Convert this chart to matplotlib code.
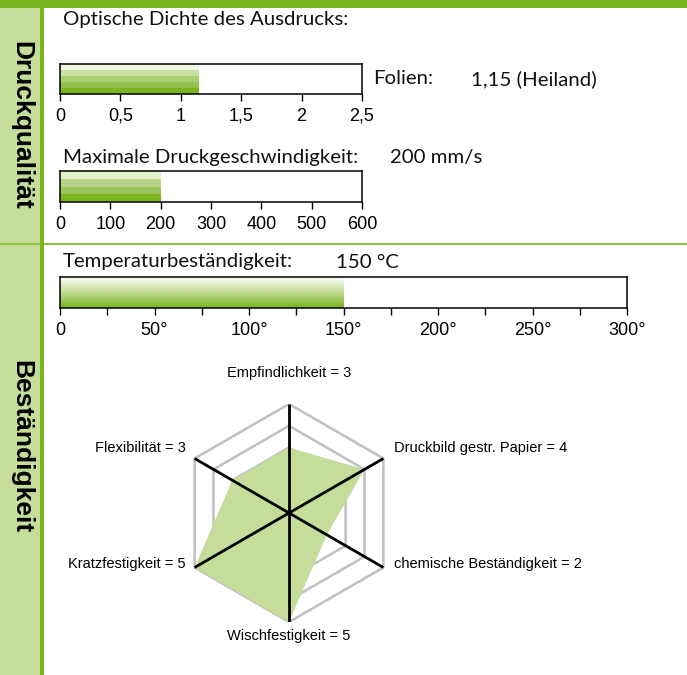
import numpy as np
import matplotlib
matplotlib.use("Agg")
import matplotlib.pyplot as plt
from matplotlib.patches import Rectangle
from matplotlib.colors import LinearSegmentedColormap

W, H = 687, 675

# --- data ---
dichte = 1.15
dichte_ticks = [0, 0.5, 1, 1.5, 2, 2.5]
dichte_labels = ["0", "0,5", "1", "1,5", "2", "2,5"]

speed = 200
speed_ticks = [0, 100, 200, 300, 400, 500, 600]
speed_labels = ["0", "100", "200", "300", "400", "500", "600"]

temp = 150
temp_ticks = [0, 25, 50, 75, 100, 125, 150, 175, 200, 225, 250, 275, 300]
temp_labels = ["0", "", "50°", "", "100°", "", "150°", "", "200°", "", "250°", "", "300°"]

radar_names = ["Empfindlichkeit", "Druckbild gestr. Papier", "chemische Beständigkeit",
               "Wischfestigkeit", "Kratzfestigkeit", "Flexibilität"]
radar_values = [3, 4, 2, 5, 5, 3]
radar_max = 5

GREEN = "#7ab51d"
LIGHT = "#c5dc9b"
TITLE_FONT = "Lato"
TICK_FONT = "Liberation Sans"

fig = plt.figure(figsize=(W / 100, H / 100), dpi=100)
fig.patch.set_facecolor("white")


def px(x, y, w, h):
    # pixel box (top-left origin) -> figure fraction
    return [x / W, 1 - (y + h) / H, w / W, h / H]


# background decoration
fig.patches.append(Rectangle((0, 0), 40 / W, 1, transform=fig.transFigure,
                             facecolor=LIGHT, edgecolor="none", zorder=0))
fig.patches.append(Rectangle((0, 1 - 245.5 / H), 1, 2 / H, transform=fig.transFigure,
                             facecolor="#8dc63f", edgecolor="none", zorder=1))
fig.patches.append(Rectangle((40 / W, 0), 4 / W, 1, transform=fig.transFigure,
                             facecolor=GREEN, edgecolor="none", zorder=2))
fig.patches.append(Rectangle((0, 1 - 8 / H), 1, 8 / H, transform=fig.transFigure,
                             facecolor=GREEN, edgecolor="none", zorder=3))

fig.text(21 / W, 1 - 125 / H, "Druckqualität", rotation=-90, ha="center", va="center",
         fontsize=19, fontweight="bold", family=TICK_FONT)
fig.text(21 / W, 1 - 447 / H, "Beständigkeit", rotation=-90, ha="center", va="center",
         fontsize=19, fontweight="bold", family=TICK_FONT)


def bar_axes(box, value, vmax, ticks, labels, colors=None, smooth=False):
    ax = fig.add_axes(px(*box))
    if smooth:
        cmap = LinearSegmentedColormap.from_list(
            "g", ["#fdfefb", "#d5e7b4", "#a6cd6b", GREEN])
        grad = np.linspace(0, 1, 100).reshape(-1, 1)
        ax.imshow(grad, cmap=cmap, aspect="auto", extent=(0, value, 0, 1),
                  vmin=0, vmax=1, zorder=1)
    else:
        n = len(colors)
        for i, c in enumerate(colors):
            ax.barh(1 - (i + 0.5) / n, value, height=1 / n, left=0, color=c,
                    edgecolor="none", align="center")
    ax.set_xlim(0, vmax)
    ax.set_ylim(0, 1)
    for s in ax.spines.values():
        s.set_linewidth(1.1)
        s.set_color("black")
    ax.set_yticks([])
    ax.set_xticks(ticks)
    ax.set_xticklabels(labels, family=TICK_FONT, fontsize=13)
    ax.tick_params(axis="x", direction="out", length=5, width=1, pad=5)
    return ax


bar_axes((60, 64, 302, 30), dichte, 2.5, dichte_ticks, dichte_labels,
         colors=["#eef5e1", "#c9e0a2", "#aacf72", "#91c14b", GREEN])
bar_axes((60, 171, 302, 31), speed, 600, speed_ticks, speed_labels,
         colors=["#e3efcd", "#b7d586", "#99c55b", GREEN])
bar_axes((60, 277, 567, 31), temp, 300, temp_ticks, temp_labels, smooth=True)

tkw = dict(family=TITLE_FONT, fontsize=14.7, va="center", ha="left", color="#111111")
fig.text(63 / W, 1 - 20 / H, "Optische Dichte des Ausdrucks:", **tkw)
fig.text(373 / W, 1 - 79 / H, "Folien:", **tkw)
fig.text(471 / W, 1 - 79 / H, "1,15 (Heiland)", **tkw)
fig.text(63 / W, 1 - 157 / H, "Maximale Druckgeschwindigkeit:", **tkw)
fig.text(390 / W, 1 - 157 / H, "200 mm/s", **tkw)
fig.text(63 / W, 1 - 262 / H, "Temperaturbeständigkeit:", **tkw)
fig.text(336 / W, 1 - 262 / H, "150 °C", **tkw)

# --- radar ---
rax = fig.add_axes(px(180, 404, 218, 218))
rax.set_xlim(-radar_max, radar_max)
rax.set_ylim(-radar_max, radar_max)
rax.axis("off")
n = len(radar_values)
ang = np.pi / 2 - np.arange(n) * 2 * np.pi / n
ca, sa = np.cos(ang), np.sin(ang)

for r in range(1, radar_max + 1):
    rax.plot(np.append(r * ca, r * ca[0]), np.append(r * sa, r * sa[0]),
             color="#c0c0c0", lw=1.8, zorder=1, solid_joinstyle="miter")
vals = np.array(radar_values)
rax.fill(vals * ca, vals * sa, color=LIGHT, lw=0, zorder=2)
for i in range(n // 2):
    rax.plot([radar_max * ca[i], radar_max * ca[i + n // 2]],
             [radar_max * sa[i], radar_max * sa[i + n // 2]],
             color="black", lw=2, zorder=3, solid_capstyle="butt")

lab_off = [(0, 1.42), (0.49, 0.46), (0.49, 0.14), (0, -0.64), (-0.4, 0.14), (-0.4, 0.46)]
for i in range(n):
    x, y = radar_max * ca[i], radar_max * sa[i]
    dx, dy = lab_off[i]
    ha = "center" if abs(ca[i]) < 0.1 else ("left" if ca[i] > 0 else "right")
    rax.text(x + dx, y + dy, f"{radar_names[i]} = {radar_values[i]}", ha=ha,
             va="center", fontsize=10.5, family=TICK_FONT, clip_on=False)

fig.savefig("out.png", dpi=100)
